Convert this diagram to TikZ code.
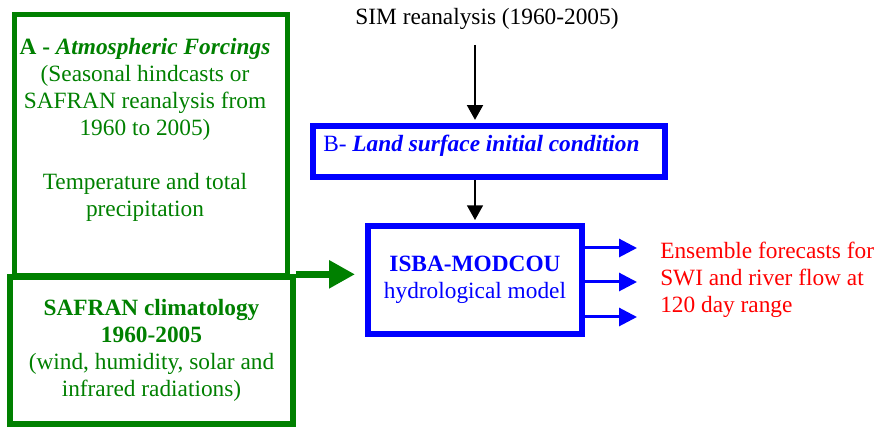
\documentclass[tikz,border=0pt]{standalone}
\usepackage{fontspec}
\setmainfont{Liberation Serif}
\definecolor{fcgreen}{RGB}{0,128,0}
\definecolor{fcblue}{RGB}{0,0,255}
\definecolor{fcred}{RGB}{255,0,0}
\usetikzlibrary{arrows.meta,positioning,calc}

\begin{document}
\begin{tikzpicture}[
    x=0.75pt, y=-0.75pt,
    every node/.style={font=\fontsize{17.5}{20.25}\selectfont},
    gbox/.style={rectangle, draw=fcgreen, line width=4pt, align=center, text=fcgreen},
    bbox/.style={rectangle, draw=fcblue, line width=4.5pt, align=center, text=fcblue},
    txt/.style={inner sep=0pt, align=center},
    arr/.style={-{Triangle[length=11pt,width=12pt]}, line width=1.1pt, black, shorten >=2pt},
    garr/.style={-{Triangle[length=19.5pt,width=20pt]}, line width=5pt, fcgreen},
    barr/.style={-{Triangle[length=13.5pt,width=13.5pt]}, line width=2.25pt, fcblue}
  ]
    \useasboundingbox (0,0) rectangle (879,427);

    % forcing boxes
    \node[gbox, minimum width=204.75pt, minimum height=196pt] (forc) at (151,145.25) {};
    \node[txt, anchor=north, text=fcgreen] (forctxt) at (145,38)
      {\textbf{A - \textit{Atmospheric Forcings}}\\(Seasonal hindcasts or\\SAFRAN reanalysis from\\1960 to 2005)\\[20.25pt]Temperature and total\\precipitation};
    \node[gbox, minimum width=212.25pt, minimum height=110.25pt] (clim) at (151.5,350.5)
      {\textbf{SAFRAN climatology}\\\textbf{1960-2005}\\(wind, humidity, solar and\\infrared radiations)};

    % initial condition and model
    \node[txt, anchor=base] (sim) at (487,25) {SIM reanalysis (1960-2005)};
    \node[bbox, minimum width=264pt, minimum height=38.6pt] (init) at (489,151.25) {};
    \node[txt, anchor=base west, text=fcblue] (inittxt) at (323,152)
      {B- \textbf{\textit{Land surface initial condition}}};
    \node[bbox, minimum width=160.5pt, minimum height=81.5pt] (isba) at (475,280)
      {\textbf{ISBA-MODCOU}\\hydrological model};
    \node[txt, anchor=north west, align=left, text=fcred] (ens) at (660,242)
      {Ensemble forecasts for\\SWI and river flow at\\120 day range};

    \coordinate (simfoot) at (475,45);
    \draw[arr] (simfoot) -- (simfoot |- init.north);
    \draw[arr] (init.south -| isba.north) -- (isba.north);
    \draw[garr, shorten >=7.5pt] (clim.north east) -- (clim.north east -| isba.west);
    \foreach \dy in {-32,2,37}
      \draw[barr] (isba.east) ++(0,\dy) -- ++(52,0);
  \end{tikzpicture}
\end{document}
